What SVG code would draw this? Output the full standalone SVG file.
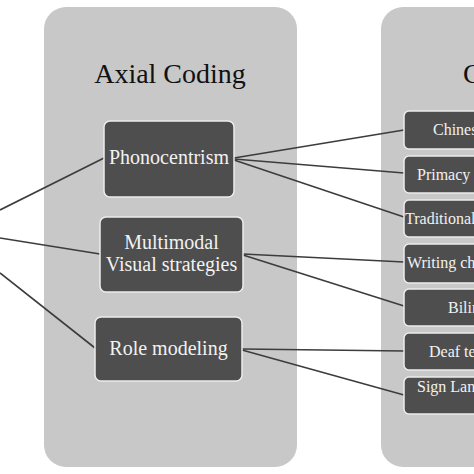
<svg xmlns="http://www.w3.org/2000/svg" width="474" height="474" viewBox="0 0 474 474">
<style>
.panel{fill:#c8c8c8}
.box{fill:#4e4e4e;stroke:#ececec;stroke-width:1.5}
.title{font-family:"Liberation Serif",serif;font-size:28px;fill:#111}
.lbl{font-family:"Liberation Serif",serif;font-size:20px;fill:#f2f2f2;text-anchor:middle}
.sm{font-family:"Liberation Serif",serif;font-size:16px;fill:#f2f2f2}
.con{stroke:#3c3c3c;stroke-width:1.6;fill:none}
</style>
<rect width="474" height="474" fill="#ffffff"/>
<g id="panel-axial">
<rect class="panel" x="44" y="7" width="253" height="460" rx="22"/>
<text class="title" x="170" y="83" text-anchor="middle">Axial Coding</text>
</g>
<g id="panel-open">
<rect class="panel" x="381" y="7" width="253" height="460" rx="22"/>
<text class="title" x="463" y="83">Codes</text>
</g>
<g id="connectors">
<line class="con" x1="0" y1="210" x2="104" y2="158"/>
<line class="con" x1="0" y1="238" x2="100" y2="254"/>
<line class="con" x1="0" y1="273" x2="95" y2="348"/>
<line class="con" x1="234" y1="158" x2="404" y2="130"/>
<line class="con" x1="234" y1="159" x2="404" y2="173"/>
<line class="con" x1="234" y1="160" x2="404" y2="217"/>
<line class="con" x1="243" y1="254" x2="404" y2="262"/>
<line class="con" x1="243" y1="255" x2="404" y2="306"/>
<line class="con" x1="242" y1="349" x2="404" y2="351"/>
<line class="con" x1="242" y1="350" x2="404" y2="395"/>
</g>
<g id="node-phonocentrism">
<rect class="box" x="104" y="121" width="130" height="76" rx="6"/>
<text class="lbl" x="169" y="164">Phonocentrism</text>
</g>
<g id="node-multimodal">
<rect class="box" x="100" y="217" width="143" height="75" rx="6"/>
<text class="lbl" x="171.5" y="249">Multimodal</text>
<text class="lbl" x="171.5" y="271">Visual strategies</text>
</g>
<g id="node-role">
<rect class="box" x="95" y="317" width="147" height="64" rx="6"/>
<text class="lbl" x="168.5" y="355">Role modeling</text>
</g>
<g id="node-chinese">
<rect class="box" x="404" y="111" width="140" height="38" rx="5"/>
<text class="sm" x="433" y="135">Chinese</text>
</g>
<g id="node-primacy">
<rect class="box" x="404" y="156" width="140" height="37" rx="5"/>
<text class="sm" x="417" y="180">Primacy of speech</text>
</g>
<g id="node-traditional">
<rect class="box" x="404" y="200" width="140" height="37" rx="5"/>
<text class="sm" x="405" y="224">Traditional methods</text>
</g>
<g id="node-writing">
<rect class="box" x="404" y="244" width="140" height="39" rx="5"/>
<text class="sm" x="407" y="268">Writing characters</text>
</g>
<g id="node-bilingual">
<rect class="box" x="404" y="289" width="140" height="37" rx="5"/>
<text class="sm" x="448" y="313">Bilingual</text>
</g>
<g id="node-deaf">
<rect class="box" x="404" y="333" width="140" height="37" rx="5"/>
<text class="sm" x="429" y="357">Deaf teachers</text>
</g>
<g id="node-sign">
<rect class="box" x="404" y="377" width="140" height="37" rx="5"/>
<text class="sm" x="417" y="392">Sign Language</text>
</g>
</svg>
